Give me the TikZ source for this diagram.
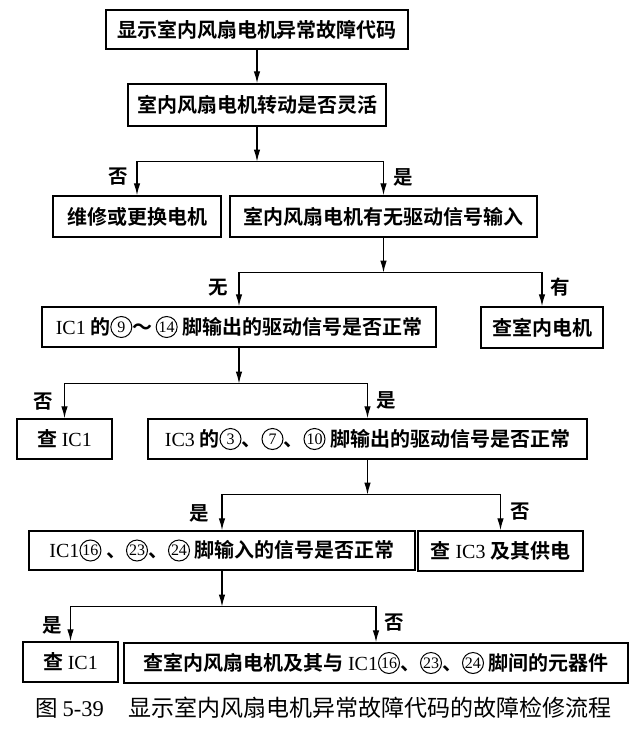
\documentclass[tikz,border=0pt]{standalone}
\usepackage{fontspec}
\setmainfont{Liberation Serif}
\newfontfamily\cjk{Noto Sans CJK SC}[BoldFont={Noto Sans CJK SC Bold}]
\usetikzlibrary{arrows.meta}
\newcommand\lt[1]{{\rmfamily\mdseries #1}}
\newcommand\cn[1]{\tikz[baseline={(0pt,-7pt)}]{%
  \path (-11pt,-11pt) rectangle (11pt,11pt);%
  \draw[line width=1pt] (0pt,0pt) circle[radius=10.5pt];%
  \node[draw=none,shape=rectangle,inner sep=0pt,minimum width=0pt,minimum height=0pt,font=\rmfamily\mdseries\fontsize{16}{16}\selectfont] (cnode) at (0pt,0pt) {#1};}}
\begin{document}
\begin{tikzpicture}[x=1pt,y=-1pt,
  box/.style={draw,line width=1.4pt,rectangle,inner sep=0pt,align=center,
    font=\cjk\bfseries\fontsize{20}{23}\selectfont},
  lab/.style={font=\cjk\bfseries\fontsize{19.5}{22}\selectfont,inner sep=0pt},
  conn/.style={line width=1.3pt},
  arr/.style={conn,-{Latex[length=12pt,width=6.5pt]}}]
\useasboundingbox[fill=white] (0,0) rectangle (642,729);

% boxes
\node[box,minimum width=302pt,minimum height=39pt] (b1) at (257,29.5) {显示室内风扇电机异常故障代码};
\node[box,minimum width=258pt,minimum height=42pt] (b2) at (257,105) {室内风扇电机转动是否灵活};
\node[box,minimum width=168pt,minimum height=41pt] (b3) at (137,216.5) {维修或更换电机};
\node[box,minimum width=307pt,minimum height=41pt] (b4) at (383.5,216.5) {室内风扇电机有无驱动信号输入};
\node[box,minimum width=394pt,minimum height=40pt] (b5) at (239,327) {\lt{IC1} 的\cn{9}～\,\cn{14} 脚输出的驱动信号是否正常};
\node[box,minimum width=122pt,minimum height=41pt] (b6) at (542,327.5) {查室内电机};
\node[box,minimum width=95pt,minimum height=40pt] (b7) at (64.5,439) {查 \lt{IC1}};
\node[box,minimum width=439pt,minimum height=40pt] (b8) at (367.5,439) {\lt{IC3} 的\cn{3}、\cn{7}、\cn{10} 脚输出的驱动信号是否正常};
\node[box,minimum width=386pt,minimum height=39pt] (b9) at (222,550.5) {\lt{IC1}\cn{16} 、\cn{23}、\cn{24} 脚输入的信号是否正常};
\node[box,minimum width=165pt,minimum height=40pt] (b10) at (500.5,551) {查 \lt{IC3} 及其供电};
\node[box,minimum width=95pt,minimum height=40pt] (b11) at (70.5,662) {查 \lt{IC1}};
\node[box,minimum width=504pt,minimum height=40pt] (b12) at (376,663) {查室内风扇电机及其与 \lt{IC1}\cn{16}、\cn{23}、\cn{24} 脚间的元器件};

% junction points
\path (b2.south) ++(0,35) coordinate (j1);
\path (b4.south) ++(0,35) coordinate (j2);
\path (b5.south) ++(0,36) coordinate (j3);
\path (b8.south) ++(0,35) coordinate (j4);
\path (b9.south) ++(0,36) coordinate (j5);

% connectors
\draw[arr] (b1) -- (b2);
\draw[arr] (b2.south) -- (j1);
\draw[arr] (j1) -| (b3.north);
\draw[arr] (j1) -| (b4.north);
\draw[arr] (b4.south) -- (j2);
\draw[arr] (j2) -| (b5.north);
\draw[arr] (j2) -| (b6.north);
\draw[arr] (b5.south) -- (j3);
\draw[arr] (j3) -| (b7.north);
\draw[arr] (j3) -| (b8.north);
\draw[arr] (b8.south) -- (j4);
\draw[arr] (j4) -| (b9.north);
\draw[arr] (j4) -| (b10.north);
\draw[arr] (b9.south) -- (j5);
\draw[arr] (j5) -| (b11.north);
\draw[arr] (j5) -| (b12.north);

% branch labels
\node[lab] (l1) at (118,177) {否};
\node[lab] (l2) at (403,177) {是};
\node[lab] (l3) at (218,288) {无};
\node[lab] (l4) at (560,287) {有};
\node[lab] (l5) at (43,402) {否};
\node[lab] (l6) at (386,400) {是};
\node[lab] (l7) at (199,513) {是};
\node[lab] (l8) at (520,512) {否};
\node[lab] (l9) at (52,625) {是};
\node[lab] (l10) at (394,623) {否};

% caption
\node[anchor=west,inner sep=0pt,font=\cjk\fontsize{22.5}{26}\selectfont] (cap1) at (35,708) {图 \lt{5-39}};
\node[anchor=west,inner sep=0pt,font=\cjk\fontsize{23}{26}\selectfont] (cap2) at (128,708) {显示室内风扇电机异常故障代码的故障检修流程};
\end{tikzpicture}
\end{document}
